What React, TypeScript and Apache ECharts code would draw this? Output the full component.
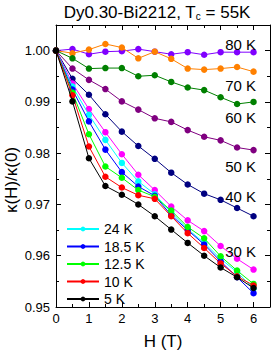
import React, { useEffect, useRef } from "react";
import * as echarts from "echarts";

const fields = [0, 0.5, 1, 1.5, 2, 2.5, 3, 3.5, 4, 4.5, 5, 5.5, 6];

const k80 = [1.0, 1.0003, 0.9993, 0.9998, 0.9999, 1.0003, 0.9998, 0.9993, 0.9997, 0.9992, 0.9997, 0.9997, 0.9997];
const k70 = [1.0, 0.9995, 1.0002, 1.0013, 1.0006, 0.9985, 0.9998, 0.9984, 0.9965, 0.9963, 0.9965, 0.9968, 0.9959];
const k60 = [1.0, 0.9985, 0.9965, 0.9966, 0.9966, 0.995, 0.9952, 0.9939, 0.9928, 0.9923, 0.9909, 0.9896, 0.99];
const k50 = [1.0, 0.9965, 0.9943, 0.9925, 0.9901, 0.9885, 0.9868, 0.9861, 0.9845, 0.9832, 0.9825, 0.9811, 0.9806];
const k40 = [1.0, 0.9945, 0.9914, 0.9876, 0.9842, 0.9814, 0.9789, 0.9762, 0.9739, 0.9721, 0.9709, 0.9693, 0.9677];
const k30 = [1.0, 0.9936, 0.9886, 0.9841, 0.9798, 0.9758, 0.9728, 0.9696, 0.9669, 0.9648, 0.9619, 0.9594, 0.9573];
const k24 = [1.0, 0.993, 0.9875, 0.9826, 0.9781, 0.9745, 0.972, 0.9684, 0.9652, 0.9625, 0.9594, 0.9568, 0.9536];
const k18 = [1.0, 0.9924, 0.9862, 0.9807, 0.9763, 0.9735, 0.9717, 0.9679, 0.965, 0.9622, 0.9589, 0.9558, 0.9527];
const k12 = [1.0, 0.9918, 0.9837, 0.9774, 0.9752, 0.9728, 0.9715, 0.9688, 0.9656, 0.9634, 0.9599, 0.9571, 0.9545];
const k10 = [1.0, 0.9913, 0.9813, 0.9754, 0.9733, 0.9718, 0.9711, 0.9677, 0.9644, 0.9615, 0.9585, 0.956, 0.9542];
const k5 = [1.0, 0.9901, 0.979, 0.9736, 0.9719, 0.97, 0.9677, 0.9651, 0.9625, 0.96, 0.9577, 0.9558, 0.9537];

const seriesNames = ["80 K", "70 K", "60 K", "50 K", "40 K", "30 K", "24 K", "18.5 K", "12.5 K", "10 K", "5 K"];
const seriesData = [k80, k70, k60, k50, k40, k30, k24, k18, k12, k10, k5];
const seriesColors = ["#8000ff", "#ff8000", "#008000", "#800080", "#000080", "#ff00ff", "#00ffff", "#0000ff", "#00ff00", "#ff0000", "#000000"];
const legendNames = ["24 K", "18.5 K", "12.5 K", "10 K", "5 K"];
const curveLabels = ["80 K", "70 K", "60 K", "50 K", "40 K", "30 K"];
const curveLabelY = [44, 85, 117, 166, 196, 251];

const FONT = "Liberation Sans, Arial, sans-serif";

export default function App() {
  const ref = useRef<HTMLDivElement>(null);
  useEffect(() => {
    document.body.style.margin = "0";
    const chart = echarts.init(ref.current!, null, { renderer: "svg" });
    const axisCommon = {
      type: "value" as const,
      axisLine: { show: true, onZero: false, lineStyle: { color: "#000", width: 1 } },
      axisTick: { show: true, inside: true, length: 5, lineStyle: { color: "#000" } },
      minorTick: { show: true, splitNumber: 2, length: 3, lineStyle: { color: "#000" } },
      splitLine: { show: false },
      minorSplitLine: { show: false },
    };
    const xBase = { ...axisCommon, min: 0, max: 6.5, interval: 1 };
    const yBase = { ...axisCommon, min: 0.95, max: 1.005, interval: 0.01 };
    chart.setOption({
      animation: false,
      textStyle: { fontFamily: FONT },
      grid: { left: 56, right: 3, top: 25, bottom: 40, containLabel: false },
      xAxis: [
        {
          ...xBase,
          position: "bottom",
          axisLabel: { show: true, fontSize: 13, color: "#000", margin: 5, showMaxLabel: false, fontFamily: FONT },
          name: "H (T)",
          nameLocation: "middle",
          nameGap: 26,
          nameTextStyle: { fontSize: 17, color: "#000", fontFamily: FONT },
        },
        { ...xBase, position: "top", axisLabel: { show: false } },
      ],
      yAxis: [
        {
          ...yBase,
          position: "left",
          axisLabel: {
            show: true,
            fontSize: 13,
            color: "#000",
            margin: 6,
            showMaxLabel: false,
            fontFamily: FONT,
            formatter: (v: number) => v.toFixed(2),
          },
        },
        { ...yBase, position: "right", axisLabel: { show: false } },
      ],
      legend: {
        data: legendNames,
        orient: "vertical",
        left: 66,
        top: 217,
        itemWidth: 32,
        itemHeight: 6,
        itemGap: 3.5,
        padding: [5, 5, 5, 0],
        textStyle: { fontSize: 14, color: "#000", fontFamily: FONT, lineHeight: 14 },
      },
      graphic: [
        {
          type: "text",
          x: 157,
          y: 3,
          style: {
            text: "Dy0.30-Bi2212, T{s|c} = 55K",
            fontSize: 17,
            fontFamily: FONT,
            fill: "#000",
            align: "center",
            verticalAlign: "top",
            lineHeight: 18,
            rich: { s: { fontSize: 10, fontFamily: FONT, fill: "#000", lineHeight: 18, padding: [9, 0, 0, 0] } },
          },
        },
        {
          type: "text",
          x: 11,
          y: 180,
          rotation: Math.PI / 2,
          style: {
            text: "κ(H)/κ(0)",
            fontSize: 17,
            fontFamily: FONT,
            fill: "#000",
            align: "center",
            verticalAlign: "middle",
          },
        },
        ...curveLabels.map((t, i) => ({
          type: "text",
          x: 256,
          y: curveLabelY[i],
          z: 100,
          style: { text: t, fontSize: 15, fontFamily: FONT, fill: "#000", align: "right", verticalAlign: "middle" },
        })),
      ],
      series: seriesNames.map((name, i) => ({
        name,
        type: "line",
        xAxisIndex: 0,
        yAxisIndex: 0,
        data: fields.map((h, j) => [h, seriesData[i][j]]),
        symbol: "circle",
        symbolSize: 6.5,
        showSymbol: true,
        lineStyle: { color: seriesColors[i], width: 1 },
        itemStyle: { color: seriesColors[i] },
        z: 2 + i,
      })),
    });
    return () => chart.dispose();
  }, []);
  return <div ref={ref} style={{ width: 273, height: 355 }} />;
}
